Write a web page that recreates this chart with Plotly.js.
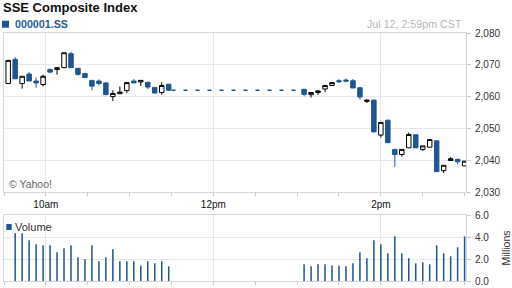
<!DOCTYPE html>
<html><head><meta charset="utf-8">
<script src="https://cdn.plot.ly/plotly-3.0.1.min.js"></script>
<style>html,body{margin:0;padding:0;background:#fff}#chart{width:512px;height:288px}</style>
</head><body><div id="chart"></div>
<script>
const day = '2012-07-12 ';

// Morning session (5-minute candles)
const timesAM = ['09:33','09:38','09:43','09:48','09:53','09:58','10:03','10:08','10:13','10:18','10:23','10:28',
                 '10:33','10:38','10:43','10:48','10:53','10:58','11:03','11:08','11:13','11:18','11:23','11:28'];
const openAM  = [2064.1,2071.7,2064.1,2067.1,2064.9,2063.8,2068.5,2068.5,2069.1,2073.5,2068.9,2067.3,
                 2065.1,2064.9,2064.3,2060.0,2060.9,2061.9,2064.9,2064.6,2064.5,2062.9,2061.3,2063.9];
const highAM  = [2071.5,2072.4,2066.4,2067.7,2066.0,2066.9,2068.9,2069.1,2073.8,2074.1,2068.9,2067.3,
                 2065.1,2065.4,2064.5,2062.0,2063.2,2064.4,2065.5,2065.1,2064.5,2062.9,2064.5,2063.9];
const lowAM   = [2064.0,2065.6,2062.5,2064.9,2062.8,2063.2,2067.4,2066.9,2069.1,2069.1,2066.6,2066.0,
                 2062.0,2063.5,2060.6,2058.6,2060.9,2061.1,2064.3,2063.3,2062.4,2061.1,2060.6,2061.8];
const closeAM = [2071.4,2065.6,2066.4,2064.9,2064.3,2066.4,2067.7,2069.1,2073.8,2069.1,2067.0,2066.0,
                 2063.3,2064.1,2060.6,2061.0,2061.4,2064.4,2064.3,2065.1,2063.0,2061.1,2063.5,2062.0];
const volAM   = [null,4.33,4.33,3.70,3.33,3.24,3.24,2.61,2.97,3.24,2.15,1.97,
                 3.24,1.79,2.15,2.88,1.79,1.79,1.79,1.42,1.79,1.61,1.79,1.33];

// Afternoon session
const timesPM = ['13:05','13:10','13:15','13:20','13:25','13:30','13:35','13:40','13:45','13:50','13:55','14:00',
                 '14:05','14:10','14:15','14:20','14:25','14:30','14:35','14:40','14:45','14:50','14:55','15:00'];
const openPM  = [2062.3,2060.6,2061.3,2062.4,2063.5,2065.0,2065.2,2065.0,2062.8,2058.5,2058.9,2047.9,
                 2052.6,2043.4,2041.8,2043.9,2048.0,2043.4,2044.1,2046.1,2036.7,2039.9,2040.3,2038.2];
const highPM  = [2062.3,2061.3,2061.8,2063.5,2064.4,2065.5,2065.7,2065.5,2062.8,2059.0,2058.9,2051.9,
                 2052.6,2043.4,2043.4,2048.7,2048.0,2044.5,2046.5,2046.1,2038.4,2041.0,2040.3,2039.7];
const lowPM   = [2060.1,2059.7,2060.5,2061.4,2063.5,2064.3,2064.5,2062.7,2059.1,2058.0,2048.9,2047.1,
                 2045.5,2037.9,2041.1,2043.9,2043.9,2042.9,2044.1,2036.4,2036.0,2039.9,2038.7,2038.2];
const closePM = [2060.7,2061.3,2061.8,2063.5,2064.4,2064.7,2064.9,2062.7,2059.9,2058.9,2048.9,2051.9,
                 2045.5,2041.8,2043.4,2048.1,2043.9,2044.5,2046.5,2036.4,2038.4,2040.5,2039.5,2039.7];
const volPM   = [1.52,1.33,1.52,1.52,1.42,1.42,1.33,1.61,2.61,2.06,3.70,3.33,
                 2.52,4.06,2.52,2.06,1.61,1.70,1.52,3.24,2.52,2.24,3.06,4.06];

// Lunch break (flat dashed line at last morning close)
const gapTimes = ['11:30','13:00'];

const xTickVals = ['10:00','12:00','14:00'];
const xTickText = ['10am','12pm','2pm'];
const xRange = ['09:30','15:01'];

const BLUE = '#1d5690';
const W = 512, H = 288, L = 4, R = 46, T = 33, B = 7;
const px = x => (x - L) / (W - L - R);
const py = y => (H - B - y) / (H - T - B);

const times = timesAM.concat(timesPM).map(t => day + t);
const lastClose = closeAM[closeAM.length - 1];

const traces = [
  {
    type: 'candlestick', x: times,
    open: openAM.concat(openPM), high: highAM.concat(highPM),
    low: lowAM.concat(lowPM), close: closeAM.concat(closePM),
    increasing: {line: {color: '#000', width: 1}, fillcolor: '#fff'},
    decreasing: {line: {color: BLUE, width: 1}, fillcolor: BLUE},
    whiskerwidth: 0, xaxis: 'x', yaxis: 'y', hoverinfo: 'none'
  },
  {
    type: 'scatter', mode: 'lines', x: gapTimes.map(t => day + t), y: [lastClose, lastClose],
    line: {color: BLUE, width: 1.3, dash: '4px,8px'}, xaxis: 'x', yaxis: 'y', hoverinfo: 'none'
  },
  {
    type: 'bar', x: times, y: volAM.concat(volPM), width: 65000,
    marker: {color: BLUE, line: {width: 0}}, xaxis: 'x2', yaxis: 'y2', hoverinfo: 'none'
  }
];

const GRID = '#e6e6ee', FRAME = '#d6d6d6';
const minorTicks = {ticks: 'outside', ticklen: 3, tickcolor: '#c8c8c8', dtick: 1800000, tick0: day + '09:30', showgrid: false};

const layout = {
  width: W, height: H,
  margin: {l: L, r: R, t: T, b: B},
  paper_bgcolor: '#fff', plot_bgcolor: '#fff',
  showlegend: false,
  font: {family: 'Liberation Sans, Arial, sans-serif', size: 10, color: '#333'},
  title: {
    text: 'SSE Composite Index', xref: 'container', yref: 'container',
    x: 3 / W, xanchor: 'left', y: 1 - 7.5 / H, yanchor: 'middle',
    font: {family: 'Liberation Sans, Arial, sans-serif', size: 13, weight: 'bold', color: '#111'}
  },
  boxgap: 0.2, boxgroupgap: 0.2,
  xaxis: {
    type: 'date', anchor: 'y', range: xRange.map(t => day + t),
    tickmode: 'array', tickvals: xTickVals.map(t => day + t), ticktext: xTickText,
    ticks: 'outside', ticklen: 3, tickcolor: '#c8c8c8', ticklabelstandoff: 0,
    tickfont: {size: 10, color: '#111'},
    showgrid: true, gridcolor: GRID, showline: true, linecolor: FRAME, mirror: true,
    zeroline: false, rangeslider: {visible: false}, minor: minorTicks, fixedrange: true
  },
  yaxis: {
    domain: [(H - B - 192) / (H - T - B), 1], anchor: 'x', side: 'right',
    range: [2030, 2080], tick0: 2030, dtick: 10, tickformat: ',d',
    ticks: 'outside', ticklen: 4, tickcolor: '#c8c8c8', ticklabelstandoff: 2,
    tickfont: {size: 10, color: '#333'},
    showgrid: true, gridcolor: GRID, showline: true, linecolor: FRAME, mirror: true,
    zeroline: false, fixedrange: true
  },
  xaxis2: {
    type: 'date', anchor: 'y2', matches: 'x', range: xRange.map(t => day + t),
    tickmode: 'array', tickvals: xTickVals.map(t => day + t), showticklabels: false,
    ticks: 'outside', ticklen: 3, tickcolor: '#c8c8c8',
    showgrid: true, gridcolor: GRID, showline: true, linecolor: FRAME, mirror: true,
    zeroline: false, minor: minorTicks, fixedrange: true
  },
  yaxis2: {
    domain: [0, (H - B - 215) / (H - T - B)], anchor: 'x2', side: 'right',
    range: [0, 6], tick0: 0, dtick: 2, tickformat: '.1f',
    ticks: 'outside', ticklen: 4, tickcolor: '#c8c8c8', ticklabelstandoff: 2,
    tickfont: {size: 10, color: '#333'},
    title: {text: 'Millions', font: {size: 10.5, color: '#333'}, standoff: 14},
    showgrid: true, gridcolor: GRID, showline: true, linecolor: FRAME, mirror: true,
    zeroline: false, fixedrange: true
  },
  shapes: [
    {type: 'rect', xref: 'paper', yref: 'paper', x0: px(2), x1: px(9), y0: py(27.7), y1: py(20.7),
     fillcolor: BLUE, line: {width: 0}},
    {type: 'rect', xref: 'paper', yref: 'paper', x0: px(6.3), x1: px(11.7), y0: py(230), y1: py(224),
     fillcolor: BLUE, line: {width: 0}}
  ],
  annotations: [
    {text: '000001.SS', xref: 'paper', yref: 'paper', x: px(13), y: py(24), xanchor: 'left', yanchor: 'middle',
     showarrow: false, font: {size: 10.7, weight: 'bold', color: '#2a5d91'}},
    {text: 'Jul 12, 2:59pm CST', xref: 'paper', yref: 'paper', x: px(463.5), y: py(24), xanchor: 'right', yanchor: 'middle',
     showarrow: false, font: {size: 10.7, color: '#b8b8b8'}},
    {text: '© Yahoo!', xref: 'paper', yref: 'paper', x: px(6.5), y: py(183.5), xanchor: 'left', yanchor: 'middle',
     showarrow: false, font: {size: 10.5, color: '#666'}},
    {text: 'Volume', xref: 'paper', yref: 'paper', x: px(12.5), y: py(227), xanchor: 'left', yanchor: 'middle',
     showarrow: false, font: {size: 11, color: '#333'}}
  ]
};

Plotly.newPlot('chart', traces, layout, {staticPlot: true, displayModeBar: false});
</script>
</body></html>
